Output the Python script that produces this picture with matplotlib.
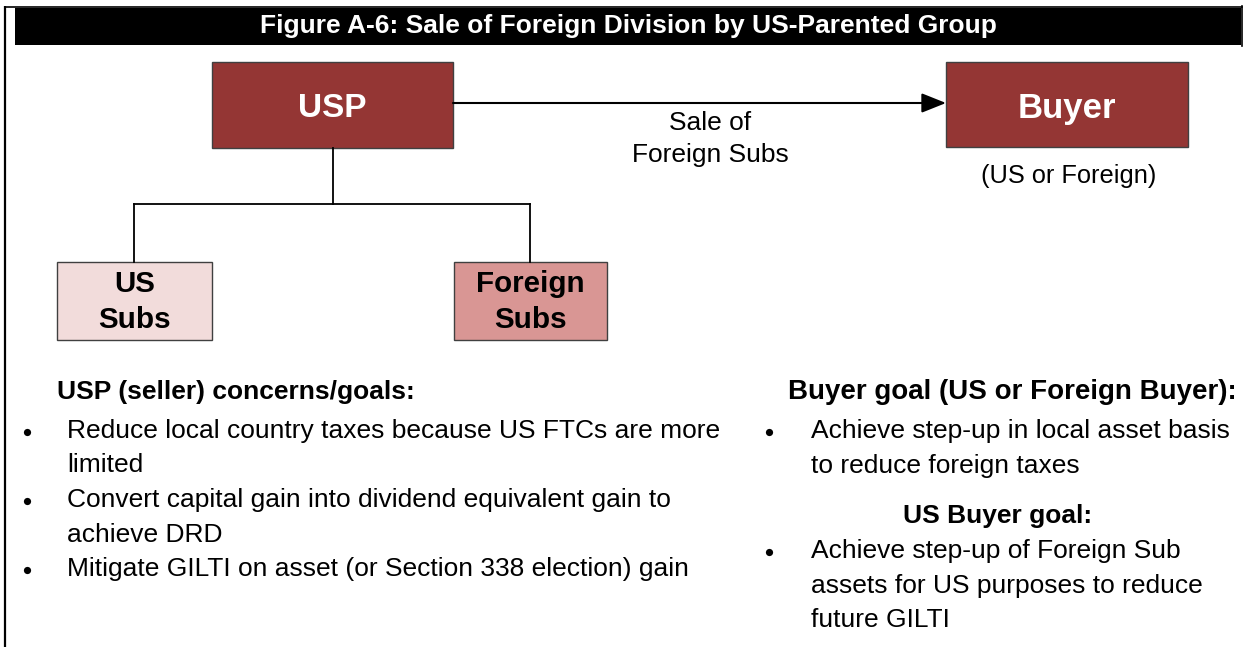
import matplotlib
matplotlib.use("Agg")
import matplotlib.pyplot as plt
from matplotlib.patches import Rectangle, FancyArrowPatch

plt.rcParams['font.family'] = ['Liberation Sans', 'DejaVu Sans']

title = "Figure A-6: Sale of Foreign Division by US-Parented Group"
box_labels = ["USP", "Buyer", "US\nSubs", "Foreign\nSubs"]
box_colors = ["#943634", "#943634", "#F2DCDB", "#D99694"]
arrow_label = ["Sale of", "Foreign Subs"]
buyer_note = "(US or Foreign)"
left_heading = "USP (seller) concerns/goals:"
left_bullets = [
    ["Reduce local country taxes because US FTCs are more", "limited"],
    ["Convert capital gain into dividend equivalent gain to", "achieve DRD"],
    ["Mitigate GILTI on asset (or Section 338 election) gain"],
]
right_heading1 = "Buyer goal (US or Foreign Buyer):"
right_bullets1 = [["Achieve step-up in local asset basis", "to reduce foreign taxes"]]
right_heading2 = "US Buyer goal:"
right_bullets2 = [["Achieve step-up of Foreign Sub", "assets for US purposes to reduce", "future GILTI"]]

W, H = 1247, 647
fig = plt.figure(figsize=(W / 100, H / 100), dpi=100)
ax = fig.add_axes([0, 0, 1, 1])
ax.set_xlim(0, W)
ax.set_ylim(H, 0)
ax.axis('off')

# frame
ax.plot([5, 5], [6, H], color='black', lw=1.6, solid_capstyle='butt')
ax.plot([5, 1242], [6.5, 6.5], color='black', lw=1.2)
ax.plot([1242, 1242], [6, 46], color='black', lw=1.2)
ax.add_patch(Rectangle((15, 8), 1226, 37, facecolor='black', edgecolor='none'))
ax.text(628, 33, title, color='white', fontsize=19, fontweight='bold',
        ha='center', va='baseline')

# boxes: (x, y, w, h) and baselines of their label lines
boxes = [(212, 62, 241, 86), (946, 62, 242, 85), (57, 262, 155, 78), (454, 262, 153, 78)]
baselines = [[117], [118], [292, 328], [292, 328]]
text_colors = ['white', 'white', 'black', 'black']
sizes = [24, 25, 21.3, 21.3]
for (x, y, w, h), lab, fc, tc, fs, bl in zip(boxes, box_labels, box_colors, text_colors, sizes, baselines):
    ax.add_patch(Rectangle((x, y), w, h, facecolor=fc, edgecolor='#404040', lw=1.0))
    for ln, b in zip(lab.split("\n"), bl):
        ax.text(x + w / 2, b, ln, color=tc, fontsize=fs, fontweight='bold',
                ha='center', va='baseline')

# connectors
lc = dict(color='black', lw=1.3)
ax.plot([333, 333], [148, 204], **lc)
ax.plot([134, 530], [204, 204], **lc)
ax.plot([134, 134], [204, 262], **lc)
ax.plot([530, 530], [204, 262], **lc)
ax.add_patch(FancyArrowPatch((453, 103), (946, 103), arrowstyle='-|>,head_length=15,head_width=6',
                             color='black', lw=1.5, shrinkA=0, shrinkB=0, mutation_scale=1))
for ln, b in zip(arrow_label, [130, 162]):
    ax.text(710, b, ln, fontsize=19, ha='center', va='baseline')
ax.text(1069, 183, buyer_note, fontsize=18.3, ha='center', va='baseline')

fs = 19
step = 34.5


def bullets(items, xb, xt, y0):
    y = y0
    for item in items:
        ax.plot([xb], [y - 6], marker='o', ms=5.2, color='black', mec='none')
        for i, ln in enumerate(item):
            ax.text(xt, y + i * step, ln, fontsize=fs, ha='left', va='baseline')
        y += step * len(item)


ax.text(57, 399, left_heading, fontsize=19, fontweight='bold', ha='left', va='baseline')
bullets(left_bullets, 27, 67, 438)
ax.text(1012, 399, right_heading1, fontsize=20, fontweight='bold', ha='center', va='baseline')
bullets(right_bullets1, 769, 811, 438)
ax.text(998, 523, right_heading2, fontsize=19, fontweight='bold', ha='center', va='baseline')
bullets(right_bullets2, 769, 811, 558)

fig.savefig("out.png", dpi=100)
